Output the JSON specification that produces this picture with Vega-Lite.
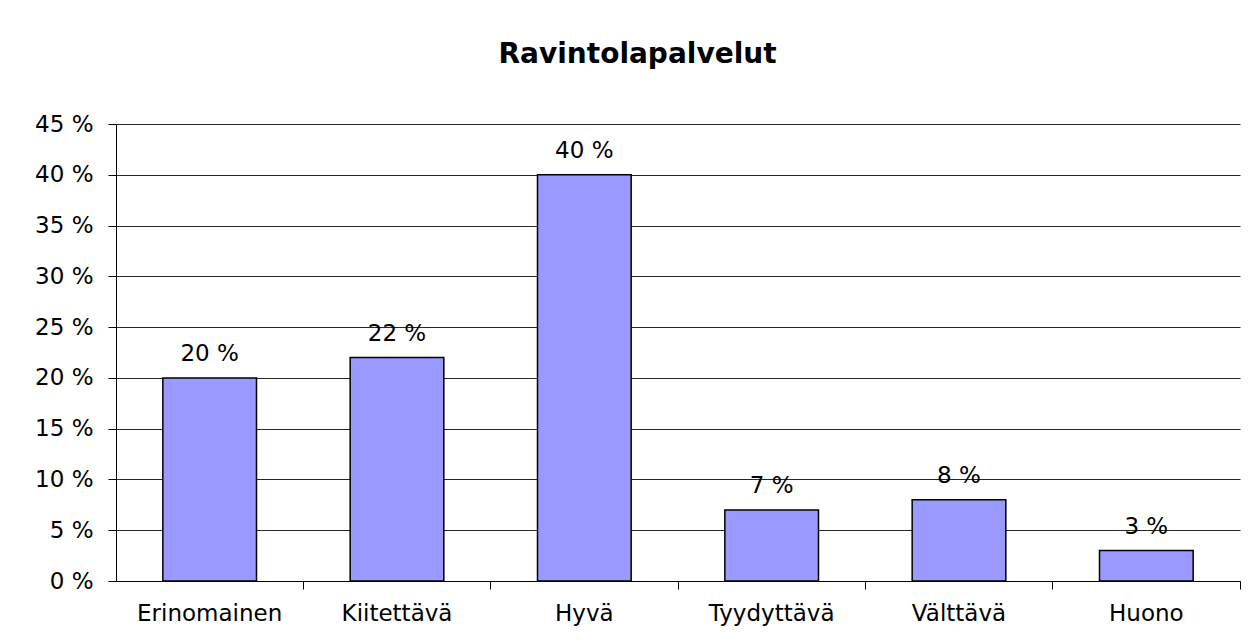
{
  "$schema": "https://vega.github.io/schema/vega-lite/v6.json",
  "autosize": {"type": "none"},
  "padding": {"left": 116, "top": 124, "right": 8, "bottom": 63},
  "width": 1124,
  "height": 457,
  "background": "white",
  "config": {
    "view": {"stroke": null},
    "font": "DejaVu Sans"
  },
  "title": {
    "text": "Ravintolapalvelut",
    "font": "DejaVu Sans",
    "fontSize": 28,
    "fontWeight": "bold",
    "color": "black",
    "anchor": "middle",
    "frame": "bounds",
    "offset": 44
  },
  "data": {
    "values": [
      {"category": "Erinomainen", "value": 20, "label": "20 %"},
      {"category": "Kiitettävä", "value": 22, "label": "22 %"},
      {"category": "Hyvä", "value": 40, "label": "40 %"},
      {"category": "Tyydyttävä", "value": 7, "label": "7 %"},
      {"category": "Välttävä", "value": 8, "label": "8 %"},
      {"category": "Huono", "value": 3, "label": "3 %"}
    ]
  },
  "encoding": {
    "x": {
      "field": "category",
      "type": "nominal",
      "sort": null,
      "scale": {"paddingInner": 0.5, "paddingOuter": 0.25},
      "axis": {
        "title": null,
        "labelAngle": 0,
        "labelFont": "DejaVu Sans",
        "labelFontSize": 23,
        "labelColor": "black",
        "domainColor": "black",
        "domainWidth": 1,
        "tickColor": "black",
        "tickSize": 8,
        "bandPosition": 1.5,
        "labelPadding": 13
      }
    },
    "y": {
      "field": "value",
      "type": "quantitative",
      "scale": {"domain": [0, 45], "nice": false},
      "axis": {
        "title": null,
        "values": [0, 5, 10, 15, 20, 25, 30, 35, 40, 45],
        "labelExpr": "datum.value + ' %'",
        "labelFont": "DejaVu Sans",
        "labelFontSize": 23,
        "labelColor": "black",
        "labelPadding": 15,
        "tickSize": 8,
        "tickColor": "black",
        "domainColor": "black",
        "grid": true,
        "gridColor": "black",
        "gridWidth": 1,
        "gridOpacity": 0.85
      }
    }
  },
  "layer": [
    {
      "mark": {"type": "bar", "color": "#9999FF", "stroke": "black", "strokeWidth": 1.5}
    },
    {
      "mark": {"type": "text", "baseline": "alphabetic", "dy": -17, "font": "DejaVu Sans", "fontSize": 23, "color": "black"},
      "encoding": {"text": {"field": "label", "type": "nominal"}}
    }
  ]
}
